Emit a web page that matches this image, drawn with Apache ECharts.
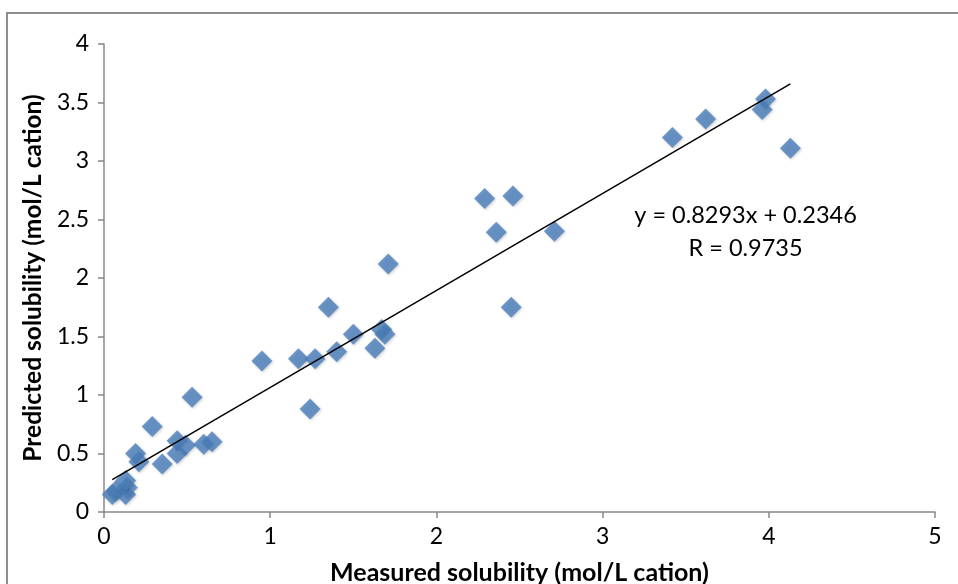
<!DOCTYPE html>
<html>
<head>
<meta charset="utf-8">
<script src="https://cdn.jsdelivr.net/npm/echarts@6/dist/echarts.min.js"></script>
<style>html,body{margin:0;padding:0;background:#fff}#c{width:958px;height:584px}</style>
</head>
<body>
<div id="c"></div>
<script>
var measured = [0.05,0.07,0.13,0.14,0.13,0.19,0.21,0.29,0.35,0.44,0.44,0.49,0.60,0.65,0.53,0.95,1.17,1.27,1.24,1.35,1.40,1.50,1.63,1.67,1.69,1.71,2.29,2.46,2.36,2.71,2.45,3.42,3.62,3.98,3.96,4.13];
var predicted = [0.15,0.18,0.15,0.21,0.27,0.50,0.43,0.73,0.41,0.61,0.50,0.57,0.58,0.60,0.98,1.29,1.31,1.31,0.88,1.75,1.37,1.52,1.40,1.56,1.52,2.12,2.68,2.70,2.39,2.40,1.75,3.20,3.36,3.53,3.44,3.11];
var slope = 0.8293, intercept = 0.2346, rValue = 0.9735;
var xTicks = [0,1,2,3,4,5];
var yTicks = [0,0.5,1,1.5,2,2.5,3,3.5,4];

var pts = measured.map(function(x,i){return [x, predicted[i]];});
var xmin = Math.min.apply(null, measured), xmax = Math.max.apply(null, measured);
var trend = [[xmin, slope*xmin+intercept],[xmax, slope*xmax+intercept]];
var FONT = 'Lato';
var chart = echarts.init(document.getElementById('c'));
chart.setOption({
  animation:false,
  grid:{left:104,right:23,top:44,bottom:72,containLabel:false,outerBoundsMode:'none'},
  xAxis:{type:'value',min:xTicks[0],max:xTicks[xTicks.length-1],interval:1,
    name:'Measured solubility (mol/L cation)',nameLocation:'middle',nameGap:48,
    nameTextStyle:{fontFamily:FONT,fontSize:25,fontWeight:'bold',color:'#000'},
    axisLine:{show:true,lineStyle:{color:'#888',width:1.5}},
    axisTick:{show:true,length:6,lineStyle:{color:'#888',width:1.5}},
    axisLabel:{fontFamily:FONT,fontSize:23,color:'#000',margin:13},
    splitLine:{show:false}},
  yAxis:{type:'value',min:yTicks[0],max:yTicks[yTicks.length-1],interval:0.5,
    name:'Predicted solubility (mol/L cation)',nameLocation:'middle',nameGap:58,nameRotate:90,
    nameTextStyle:{fontFamily:FONT,fontSize:24.5,fontWeight:'bold',color:'#000'},
    axisLine:{show:true,lineStyle:{color:'#888',width:1.5}},
    axisTick:{show:true,length:6,lineStyle:{color:'#888',width:1.5}},
    axisLabel:{fontFamily:FONT,fontSize:23,color:'#000',margin:15,formatter:function(v){return String(v);}},
    splitLine:{show:false}},
  series:[
    {type:'scatter',data:pts,symbol:'diamond',symbolSize:21,
     itemStyle:{color:'#4A7EBB',shadowColor:'rgba(0,0,0,0.25)',shadowBlur:3,shadowOffsetX:1,shadowOffsetY:1},z:2},
    {type:'line',data:trend,symbol:'none',lineStyle:{color:'#000',width:1.5},z:3}
  ]
});
var p = chart.convertToPixel({gridIndex:0},[3.86,2.39]);
chart.setOption({graphic:[
  {type:'rect',shape:{x:7,y:13,width:1200,height:1200},style:{fill:'none',stroke:'#8c8c8c',lineWidth:2},z:-1},
  {type:'text',x:p[0],y:p[1],style:{text:'y = '+slope+'x + '+intercept+'\nR = '+rValue,
    font:'23.5px '+FONT,fill:'#000',align:'center',verticalAlign:'middle',lineHeight:33}}
]});
</script>
</body>
</html>
